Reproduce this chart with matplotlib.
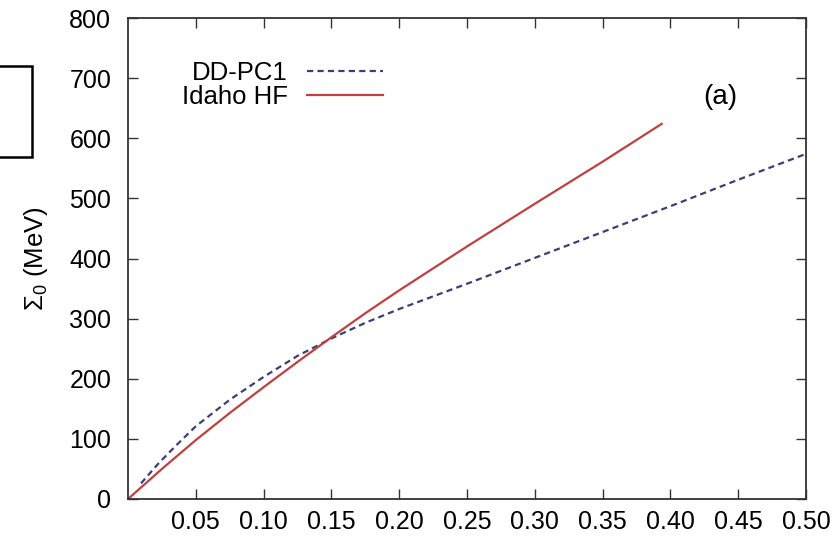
import numpy as np
import matplotlib.pyplot as plt
from matplotlib.patches import Rectangle

plt.rcParams['font.family'] = ['Liberation Sans', 'DejaVu Sans']
plt.rcParams['mathtext.fontset'] = 'custom'
plt.rcParams['mathtext.rm'] = 'Liberation Sans'
plt.rcParams['mathtext.it'] = 'Liberation Sans'

# density (fm^-3) vs Sigma_0 (MeV)
dd_x = [0.0096, 0.022, 0.035, 0.05, 0.075, 0.10, 0.125, 0.15, 0.175, 0.20, 0.25, 0.30, 0.35, 0.40, 0.45, 0.50]
dd_y = [26, 58, 88, 121, 165, 203, 238, 267, 293, 316, 358, 401, 444, 487, 531, 574]

hf_x = [0.0, 0.025, 0.05, 0.075, 0.10, 0.125, 0.15, 0.175, 0.20, 0.25, 0.30, 0.35, 0.3936]
hf_y = [0, 50, 98, 143, 186, 228, 269, 309, 347, 420, 491, 561, 624]

x_ticks = [0.05, 0.10, 0.15, 0.20, 0.25, 0.30, 0.35, 0.40, 0.45, 0.50]
x_labels = ['0.05', '0.10', '0.15', '0.20', '0.25', '0.30', '0.35', '0.40', '0.45', '0.50']
y_ticks = [0, 100, 200, 300, 400, 500, 600, 700, 800]


def main():
    fig = plt.figure(figsize=(8.38, 5.41), dpi=100)
    ax = fig.add_axes([128 / 838, 42 / 541, 678 / 838, 481 / 541])

    ax.plot(dd_x, dd_y, color='#3d3d7a', lw=1.6, dashes=(2.8, 1.9), label='DD-PC1')
    ax.plot(hf_x, hf_y, color='#c0403f', lw=1.6, label='Idaho HF')

    ax.set_xlim(0, 0.5)
    ax.set_ylim(0, 800)
    ax.set_xticks(x_ticks)
    ax.set_xticklabels(x_labels)
    ax.set_yticks(y_ticks)
    ax.tick_params(direction='in', length=7.5, width=1.0, color='#333333',
                   top=True, right=True, labelsize=18)
    ax.tick_params(axis='x', pad=8)
    ax.tick_params(axis='y', pad=12)
    for sp in ax.spines.values():
        sp.set_color('#333333')
        sp.set_linewidth(1.3)

    ax.set_ylabel(r'$\Sigma_0$ (MeV)', fontsize=18.5, labelpad=14)

    ax.legend(loc='upper right', bbox_to_anchor=(0.376, 0.91), frameon=False,
              markerfirst=False, fontsize=18.5, handlelength=2.95, handletextpad=0.75,
              labelspacing=0.0, borderpad=0, borderaxespad=0)

    ax.text(0.873, 0.836, '(a)', transform=ax.transAxes, fontsize=20,
            ha='center', va='center')

    # stray frame cut off at the left edge
    fig.add_artist(Rectangle((-0.02, 384 / 541), 0.02 + 32 / 838, 91 / 541,
                             transform=fig.transFigure, fill=False,
                             edgecolor='black', lw=1.8))

    fig.savefig('out.png', dpi=100)


if __name__ == "__main__":
    main()
